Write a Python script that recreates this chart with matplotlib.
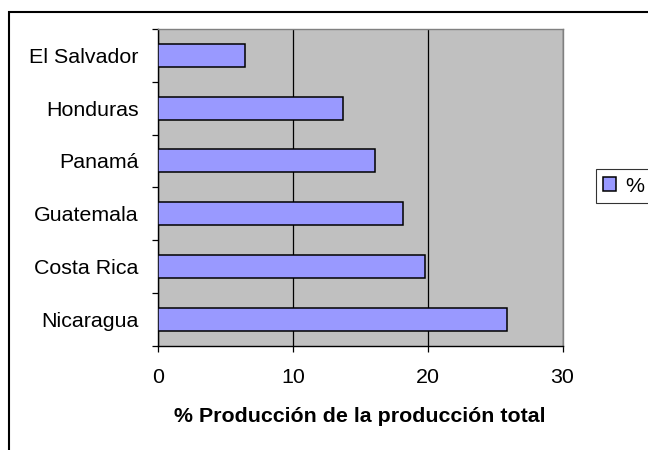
import numpy as np
import matplotlib
matplotlib.use("Agg")
import matplotlib.pyplot as plt
from matplotlib.patches import Rectangle

# data, bottom to top as drawn
countries = ["Nicaragua", "Costa Rica", "Guatemala", "Panamá", "Honduras", "El Salvador"]
values = [25.9, 19.8, 18.15, 16.1, 13.7, 6.45]
series_name = "%"
x_ticks = [0, 10, 20, 30]

plt.rcParams['font.family'] = ['Liberation Sans', 'DejaVu Sans']
fs = 15.4

fig = plt.figure(figsize=(6.48, 4.5), dpi=100)

# outer chart border (cut at right and bottom)
fig.patches.append(Rectangle((9 / 648, -0.1), 1.2, 1.1 - 12 / 450,
                             transform=fig.transFigure, fill=False,
                             edgecolor='black', linewidth=1.5, zorder=0))

ax = fig.add_axes([158 / 648, 1 - 345.5 / 450, 404.5 / 648, 316.5 / 450])
ax.set_facecolor('#C0C0C0')

pos = np.arange(len(countries))
ax.barh(pos, values, height=0.44, color='#9999FF', edgecolor='black',
        linewidth=1.1, label=series_name, zorder=3)

ax.set_xlim(0, 30)
ax.set_ylim(-0.5, len(countries) - 0.5)
ax.set_xticks(x_ticks)
ax.set_xticklabels([str(t) for t in x_ticks], fontsize=fs)
ax.xaxis.grid(True, color='black', linewidth=0.9, zorder=1)
ax.set_axisbelow(True)

ax.set_yticks(np.arange(-0.5, len(countries), 1.0))
ax.set_yticklabels([])
ax.set_yticks(pos, minor=True)
ax.set_yticklabels(countries, minor=True, fontsize=fs)
ax.tick_params(axis='y', which='minor', length=0, pad=14)
ax.tick_params(axis='y', which='major', length=4.3, width=0.9, direction='out')
ax.tick_params(axis='x', length=4.3, width=0.9, direction='out', pad=12)

for s in ['top', 'right']:
    ax.spines[s].set_color('#808080')
    ax.spines[s].set_linewidth(1.0)
for s in ['left', 'bottom']:
    ax.spines[s].set_color('black')
    ax.spines[s].set_linewidth(1.0)

ax.set_xlabel("% Producción de la producción total", fontsize=fs, fontweight='bold',
              labelpad=14)

leg = fig.legend(loc='center left', bbox_to_anchor=(596 / 648, 1 - 186 / 450),
                 fontsize=fs, frameon=True, fancybox=False, borderaxespad=0,
                 handlelength=0.6, handleheight=0.6, handletextpad=0.4,
                 borderpad=0.35)
leg.get_frame().set_edgecolor('black')
leg.get_frame().set_linewidth(0.8)

fig.savefig("out.png", dpi=100)
